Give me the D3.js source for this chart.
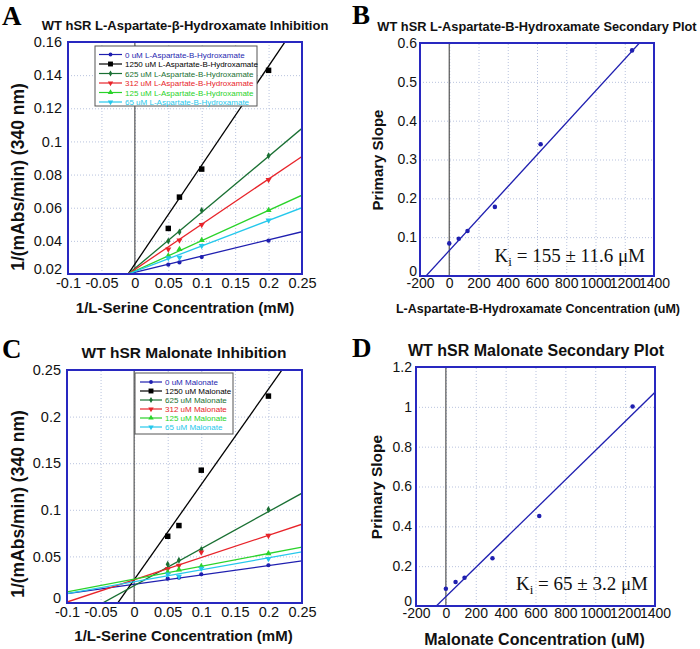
<!DOCTYPE html>
<html><head><meta charset="utf-8">
<script src="https://cdn.jsdelivr.net/npm/d3@7"></script>
<style>body{margin:0;background:#fff}svg{display:block}</style>
</head><body><svg id="chart" width="700" height="649"></svg>
<script>
// ---------- DATA ----------
const invSerine = [0.05, 0.0667, 0.1, 0.2];
const inhibitorConc = [0, 1250, 625, 312, 125, 65];

// Panel A: L-Aspartate-beta-Hydroxamate primary (Lineweaver-Burk) data
const aspLabels = ["0 uM L-Aspartate-B-Hydroxamate", "1250 uM L-Aspartate-B-Hydroxamate", "625 uM L-Aspartate-B-Hydroxamate", "312 uM L-Aspartate-B-Hydroxamate", "125 uM L-Aspartate-B-Hydroxamate", "65 uM L-Aspartate-B-Hydroxamate"];
const aspY0    = [0.0256, 0.0270, 0.0302, 0.0401];
const aspY1250 = [0.0475, 0.0664, 0.0833, 0.1429];
const aspY625  = [0.0399, 0.0453, 0.0584, 0.0914];
const aspY312  = [0.0350, 0.0403, 0.0497, 0.0769];
const aspY125  = [0.0310, 0.0350, 0.0403, 0.0584];
const aspY65   = [0.0296, 0.0300, 0.0370, 0.0524];
const aspFitSlope     = [0.098, 0.597, 0.338, 0.273, 0.183, 0.154];
const aspFitIntercept = [0.0210, 0.0260, 0.0234, 0.0227, 0.0218, 0.0215];

// Panel C: Malonate primary data
const malLabels = ["0 uM Malonate", "1250 uM Malonate", "625 uM Malonate", "312 uM Malonate", "125 uM Malonate", "65 uM Malonate"];
const malY0    = [0.0261, 0.0272, 0.0308, 0.0405];
const malY1250 = [0.0716, 0.0831, 0.1425, 0.2220];
const malY625  = [0.0415, 0.0458, 0.0573, 0.1003];
const malY312  = [0.0365, 0.0401, 0.0544, 0.0723];
const malY125  = [0.0330, 0.0358, 0.0394, 0.0530];
const malY65   = [0.0308, 0.0285, 0.0369, 0.0476];
const malFitSlope     = [0.1005, 1.022, 0.397, 0.2386, 0.1377, 0.128];
const malFitIntercept = [0.0200, 0.0250, 0.0186, 0.0249, 0.0256, 0.0228];

// Panel B / D: secondary plots
const aspPrimarySlope = [0.084, 0.096, 0.116, 0.178, 0.339, 0.581];
const aspSecConc      = [0, 65, 125, 312, 625, 1250];
const aspSecFit       = [0.000411, 0.0654]; // slope, intercept
const malPrimarySlope = [0.087, 0.121, 0.142, 0.240, 0.452, 1.002];
const malSecConc      = [0, 65, 125, 312, 625, 1250];
const malSecFit       = [0.000733, 0.0469];

// Tick values
const primaryXTicks = [-0.1, -0.05, 0, 0.05, 0.1, 0.15, 0.2, 0.25];
const aspYTicks = [0.02, 0.04, 0.06, 0.08, 0.1, 0.12, 0.14, 0.16];
const malYTicks = [0, 0.05, 0.1, 0.15, 0.2, 0.25];
const secXTicks = [-200, 0, 200, 400, 600, 800, 1000, 1200, 1400];
const aspSecYTicks = [0, 0.1, 0.2, 0.3, 0.4, 0.5, 0.6];
const malSecYTicks = [0, 0.2, 0.4, 0.6, 0.8, 1, 1.2];

// ---------- STYLE ----------
const seriesColors = ["#1f1fb0", "#000000", "#1a7033", "#e8242a", "#2ad32a", "#25c8ec"];
const seriesSymbols = [
  {type: d3.symbolCircle, size: 14, rot: 0},
  {type: d3.symbolSquare, size: 30, rot: 0},
  {type: d3.symbolDiamond, size: 14, rot: 0},
  {type: d3.symbolTriangle, size: 16, rot: 180},
  {type: d3.symbolTriangle, size: 16, rot: 0},
  {type: d3.symbolTriangle, size: 16, rot: 180}
];
const frameColor = "#2828c0";
const gridColor = "#b9c3de";
const sansFont = "'Liberation Sans', Arial, Helvetica, sans-serif";
const serifFont = "'Liberation Serif', 'Times New Roman', serif";

const svg = d3.select("#chart");
const gfmt = d3.format("~g");
const fmt = v => gfmt(v).replace("\u2212", "-");

function drawPanel(cfg, idx) {
  const g = svg.append("g").attr("transform", `translate(${cfg.left},${cfg.top})`);
  const x = d3.scaleLinear().domain(cfg.xDom).range([0, cfg.w]);
  const y = d3.scaleLinear().domain(cfg.yDom).range([cfg.h, 0]);
  const clipId = "clip" + idx;
  g.append("clipPath").attr("id", clipId).append("rect").attr("width", cfg.w).attr("height", cfg.h);

  // grid
  g.append("g").attr("class", "grid")
    .call(d3.axisLeft(y).tickValues(cfg.yTicks).tickSize(-cfg.w).tickFormat(""))
    .call(s => s.select(".domain").remove())
    .selectAll("line").attr("stroke", gridColor).attr("stroke-dasharray", "1,2");
  g.append("g").attr("class", "grid").attr("transform", `translate(0,${cfg.h})`)
    .call(d3.axisBottom(x).tickValues(cfg.xTicks).tickSize(-cfg.h).tickFormat(""))
    .call(s => s.select(".domain").remove())
    .selectAll("line").attr("stroke", gridColor).attr("stroke-dasharray", "1,2");

  // zero line
  g.append("line").attr("x1", x(0)).attr("x2", x(0)).attr("y1", 0).attr("y2", cfg.h)
    .attr("stroke", "#555").attr("stroke-width", 1.2);

  // tick labels
  const xa = g.append("g").attr("transform", `translate(0,${cfg.h})`)
    .call(d3.axisBottom(x).tickValues(cfg.xTicks).tickSize(0).tickPadding(cfg.xPad).tickFormat(fmt));
  xa.select(".domain").remove();
  xa.selectAll("text").attr("font-family", sansFont).attr("font-size", cfg.tickSize).attr("fill", "#111");
  const ya = g.append("g")
    .call(d3.axisLeft(y).tickValues(cfg.yTicks).tickSize(0).tickPadding(cfg.yPad).tickFormat(fmt));
  ya.select(".domain").remove();
  ya.selectAll("text").attr("font-family", sansFont).attr("font-size", cfg.tickSize).attr("fill", "#111");
  // lowest label sits slightly raised, as in the reference
  ya.selectAll("text").filter(d => d === cfg.yTicks[0]).attr("dy", "-0.05em");

  const plot = g.append("g").attr("clip-path", `url(#${clipId})`);
  cfg.series.forEach((s, i) => {
    const xs = cfg.xDom;
    plot.append("line")
      .attr("x1", x(xs[0])).attr("y1", y(s.slope * xs[0] + s.intercept))
      .attr("x2", x(xs[1])).attr("y2", y(s.slope * xs[1] + s.intercept))
      .attr("stroke", s.color).attr("stroke-width", cfg.lineWidth);
  });
  cfg.series.forEach((s, i) => {
    const sym = s.symbol;
    g.append("g").selectAll("path").data(s.xs.map((v, k) => [v, s.ys[k]])).join("path")
      .attr("d", d3.symbol().type(sym.type).size(sym.size))
      .attr("transform", d => `translate(${x(d[0])},${y(d[1])}) rotate(${sym.rot})`)
      .attr("fill", s.color);
  });

  // frame
  g.append("rect").attr("width", cfg.w).attr("height", cfg.h)
    .attr("fill", "none").attr("stroke", frameColor).attr("stroke-width", 2);

  // titles
  svg.append("text").attr("x", cfg.titleX).attr("y", cfg.titleY).attr("text-anchor", "middle")
    .attr("font-family", sansFont).attr("font-weight", "bold").attr("font-size", cfg.titleSize)
    .attr("fill", "#111").text(cfg.title);
  svg.append("text").attr("x", cfg.left + cfg.w / 2 + cfg.xTitleDx).attr("y", cfg.xTitleY).attr("text-anchor", "middle")
    .attr("font-family", sansFont).attr("font-weight", "bold").attr("font-size", cfg.xTitleSize)
    .attr("fill", "#111").text(cfg.xTitle);
  svg.append("text").attr("transform", `translate(${cfg.yTitleX},${cfg.yTitleCY}) rotate(-90)`)
    .attr("text-anchor", "middle")
    .attr("font-family", sansFont).attr("font-weight", "bold").attr("font-size", cfg.yTitleSize)
    .attr("fill", "#111").text(cfg.yTitle);
  svg.append("text").attr("x", cfg.letterX).attr("y", cfg.letterY)
    .attr("font-family", serifFont).attr("font-weight", "bold").attr("font-size", 27)
    .attr("fill", "#000").text(cfg.letter);

  if (cfg.legend) {
    const L = cfg.legend;
    const lg = svg.append("g").attr("transform", `translate(${L.x},${L.y})`);
    lg.append("rect").attr("width", L.w).attr("height", L.h).attr("fill", "#fff")
      .attr("stroke", "#555").attr("stroke-width", 1);
    cfg.series.forEach((s, i) => {
      const cy = L.row0 + i * L.step;
      lg.append("line").attr("x1", L.lx0).attr("x2", L.lx1).attr("y1", cy).attr("y2", cy)
        .attr("stroke", s.color).attr("stroke-width", 1.2);
      lg.append("path").attr("d", d3.symbol().type(s.symbol.type).size(s.symbol.size * 0.8))
        .attr("transform", `translate(${(L.lx0 + L.lx1) / 2},${cy}) rotate(${s.symbol.rot})`)
        .attr("fill", s.color);
      lg.append("text").attr("x", L.tx).attr("y", cy + 3).attr("font-family", sansFont)
        .attr("font-size", 8).attr("fill", s.color).text(s.label);
    });
  }

  if (cfg.ki) {
    const t = svg.append("text").attr("x", cfg.ki.x).attr("y", cfg.ki.y).attr("text-anchor", "end")
      .attr("font-family", serifFont).attr("font-size", 19).attr("fill", "#111");
    t.append("tspan").text("K");
    t.append("tspan").attr("font-size", 13).attr("dy", 4).text("i");
    t.append("tspan").attr("dy", -4).text(cfg.ki.text);
  }
}

const aspYs = [aspY0, aspY1250, aspY625, aspY312, aspY125, aspY65];
const malYs = [malY0, malY1250, malY625, malY312, malY125, malY65];

const panelA = {
  left: 68, top: 42, w: 234, h: 232, xDom: [-0.1, 0.25], yDom: [0.02, 0.16],
  xTicks: primaryXTicks, yTicks: aspYTicks, tickSize: 14.5, xPad: 3.5, yPad: 6, lineWidth: 1.3,
  series: inhibitorConc.map((c, i) => ({label: aspLabels[i], xs: invSerine, ys: aspYs[i],
    slope: aspFitSlope[i], intercept: aspFitIntercept[i], color: seriesColors[i], symbol: seriesSymbols[i]})),
  title: "WT hSR L-Aspartate-β-Hydroxamate Inhibition", titleX: 185, titleY: 30, titleSize: 13,
  xTitle: "1/L-Serine Concentration (mM)", xTitleY: 313, xTitleSize: 15, xTitleDx: 0,
  yTitle: "1/(mAbs/min) (340 nm)", yTitleX: 24, yTitleCY: 177, yTitleSize: 17.5,
  letter: "A", letterX: 2, letterY: 25,
  legend: {x: 95, y: 46, w: 162, h: 60, row0: 8.5, step: 9.5, lx0: 4, lx1: 27, tx: 30}
};
const panelC = {
  left: 67, top: 370, w: 235, h: 233, xDom: [-0.1, 0.25], yDom: [0, 0.25],
  xTicks: primaryXTicks, yTicks: malYTicks, tickSize: 14.5, xPad: 3.5, yPad: 6, lineWidth: 1.3,
  series: inhibitorConc.map((c, i) => ({label: malLabels[i], xs: invSerine, ys: malYs[i],
    slope: malFitSlope[i], intercept: malFitIntercept[i], color: seriesColors[i], symbol: seriesSymbols[i]})),
  title: "WT hSR Malonate Inhibition", titleX: 184, titleY: 358, titleSize: 15.5,
  xTitle: "1/L-Serine Concentration (mM)", xTitleY: 641, xTitleSize: 15, xTitleDx: -1,
  yTitle: "1/(mAbs/min) (340 nm)", yTitleX: 24, yTitleCY: 504, yTitleSize: 17.5,
  letter: "C", letterX: 2, letterY: 358,
  legend: {x: 135, y: 373, w: 98, h: 61, row0: 9, step: 9, lx0: 5, lx1: 27, tx: 30}
};
const panelB = {
  left: 420, top: 43, w: 234, h: 233, xDom: [-200, 1400], yDom: [0, 0.6],
  xTicks: secXTicks, yTicks: aspSecYTicks, tickSize: 14, xPad: 2, yPad: 3, lineWidth: 1.3,
  series: [{label: "", xs: aspSecConc, ys: aspPrimarySlope, slope: aspSecFit[0], intercept: aspSecFit[1],
    color: "#1f1fb0", symbol: {type: d3.symbolCircle, size: 16, rot: 0}}],
  title: "WT hSR L-Aspartate-B-Hydroxamate Secondary Plot", titleX: 537, titleY: 31, titleSize: 12.8,
  xTitle: "L-Aspartate-B-Hydroxamate Concentration (uM)", xTitleY: 313, xTitleSize: 12.5, xTitleDx: 1,
  yTitle: "Primary Slope", yTitleX: 383, yTitleCY: 160, yTitleSize: 15,
  letter: "B", letterX: 352, letterY: 24,
  ki: {x: 645, y: 262, text: " = 155 ± 11.6 μM"}
};
const panelD = {
  left: 416, top: 367, w: 239, h: 239, xDom: [-200, 1400], yDom: [0, 1.2],
  xTicks: secXTicks, yTicks: malSecYTicks, tickSize: 14, xPad: 2, yPad: 4, lineWidth: 1.3,
  series: [{label: "", xs: malSecConc, ys: malPrimarySlope, slope: malSecFit[0], intercept: malSecFit[1],
    color: "#1f1fb0", symbol: {type: d3.symbolCircle, size: 16, rot: 0}}],
  title: "WT hSR Malonate Secondary Plot", titleX: 536, titleY: 356, titleSize: 16,
  xTitle: "Malonate Concentration (uM)", xTitleY: 645, xTitleSize: 16, xTitleDx: -1,
  yTitle: "Primary Slope", yTitleX: 382, yTitleCY: 487, yTitleSize: 15.5,
  letter: "D", letterX: 352, letterY: 357,
  ki: {x: 648, y: 590, text: " = 65 ± 3.2 μM"}
};

[panelA, panelB, panelC, panelD].forEach((p, i) => drawPanel(p, i));
</script>
</body></html>
